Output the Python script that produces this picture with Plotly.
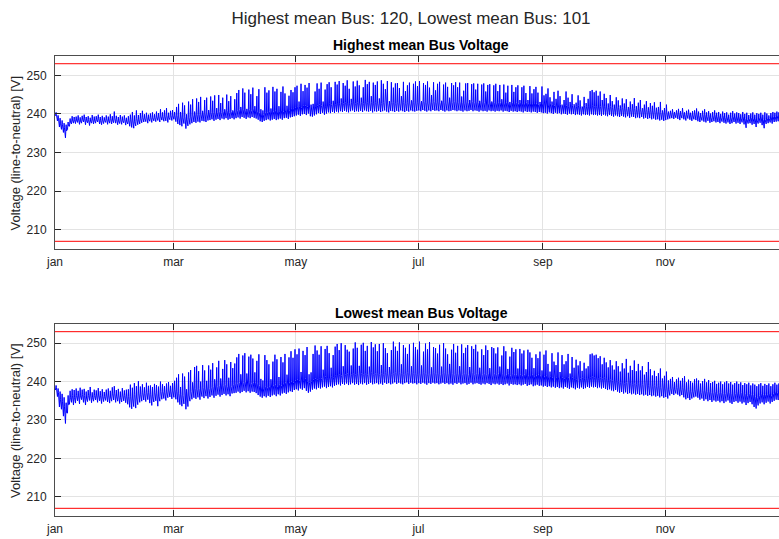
import plotly.graph_objects as go

# ---------------- data (daily min / evening / max voltage) ----------------
month_ticks = [0, 59, 120, 181, 243, 304]
month_labels = ["jan", "mar", "may", "jul", "sep", "nov"]
yticks = [210, 220, 230, 240, 250]
limits = [253, 207]

suptitle = "Highest mean Bus: 120, Lowest mean Bus: 101"
titles = ["Highest mean Bus Voltage", "Lowest mean Bus Voltage"]
ylabel = "Voltage (line-to-neutral) [V]"

hi1 = [
    240.4, 239.6, 238.9, 238.3, 237.6, 237.2, 237.9, 238.8, 239.4, 239.2,
    239.3, 239.6, 239.1, 239.5, 239.8, 239.2, 239.4, 239.0, 239.7, 239.3,
    239.4, 239.8, 239.2, 239.5, 239.1, 239.6, 239.3, 239.9, 239.4, 240.6,
    239.5, 239.2, 239.7, 239.3, 239.6, 239.0, 239.4, 239.8, 240.5, 239.6,
    240.9, 239.7, 240.2, 240.8, 239.9, 240.3, 239.8, 240.1, 240.4, 239.9,
    240.6, 240.2, 241.2, 240.4, 240.9, 241.5, 240.3, 240.8, 241.0, 240.5,
    241.8, 242.6, 240.5, 242.9, 242.2, 239.9, 243.2, 242.4, 243.8, 240.6,
    244.0, 243.1, 244.4, 240.8, 243.6, 244.2, 241.0, 244.5, 243.4, 244.8,
    241.5, 244.9, 242.8, 244.2, 241.2, 245.0, 243.3, 244.6, 240.9, 243.8,
    245.4, 246.2, 241.8, 246.6, 245.5, 241.3, 246.3, 245.1, 246.8, 242.0,
    244.6, 246.4, 241.2, 240.9, 246.9, 245.5, 246.1, 241.4, 247.0, 245.8,
    246.5, 242.0, 245.7, 247.1, 245.3, 242.1, 244.7, 246.2, 245.6, 246.9,
    247.3, 243.2, 247.8, 245.9, 247.5, 246.8, 248.0, 242.4, 242.6, 245.8,
    247.9, 246.5, 248.1, 243.2, 246.3, 247.7, 248.2, 246.9, 243.4, 248.3,
    247.6, 248.5, 244.0, 248.0, 247.3, 248.7, 246.5, 243.9, 248.4, 247.1,
    248.6, 247.4, 244.2, 246.9, 248.8, 247.7, 248.3, 244.6, 248.1, 247.5,
    248.4, 244.0, 248.7, 247.8, 246.4, 248.5, 243.3, 248.2, 246.8, 247.9,
    248.0, 246.7, 244.6, 248.3, 245.9, 247.4, 248.1, 243.5, 247.8, 248.4,
    247.2, 248.5, 243.3, 248.0, 247.5, 248.4, 246.8, 244.9, 248.2, 246.1,
    247.8, 248.3, 243.4, 247.6, 248.1, 247.0, 244.2, 248.0, 247.4, 248.2,
    246.9, 248.1, 244.5, 246.0, 247.9, 248.0, 243.6, 247.7, 247.9, 246.3,
    247.8, 243.4, 247.6, 247.9, 245.8, 247.5, 247.7, 243.2, 247.4, 247.8,
    245.9, 247.5, 243.8, 247.6, 245.5, 247.3, 243.1, 247.5, 245.7, 246.9,
    247.4, 243.6, 246.9, 247.3, 245.4, 243.6, 247.2, 245.3, 246.4, 247.0,
    245.5, 243.1, 247.1, 244.8, 245.2, 246.6, 244.3, 243.2, 245.7, 243.9,
    246.0, 244.6, 242.4, 243.6, 245.8, 244.2, 243.1, 245.1, 242.5, 242.9,
    244.8, 243.5, 241.9, 244.4, 242.8, 243.9, 245.9, 246.2, 245.6, 246.0,
    244.7, 245.8, 243.6, 245.2, 244.1, 242.7, 244.9, 243.3, 242.4, 244.3,
    243.5, 242.2, 244.0, 242.7, 243.8, 241.8, 243.2, 242.5, 244.1, 242.0,
    242.9, 243.6, 241.5, 242.4, 243.3, 241.7, 242.8, 242.1, 243.0, 241.6,
    241.8, 243.1, 240.9, 241.5, 242.4, 240.6, 240.8, 241.2, 240.5, 240.9,
    241.3, 240.7, 241.5, 240.4, 240.8, 241.1, 240.3, 240.7, 240.9, 241.4,
    240.6, 240.2, 240.8, 241.2, 240.4, 240.7, 240.1, 240.5, 240.9, 240.3,
    240.5, 240.0, 240.6, 240.2, 240.4, 239.8, 240.3, 240.7, 240.1, 240.4,
    240.2, 239.9, 240.5, 240.0, 240.3, 239.7, 240.1, 240.4, 239.8, 240.2,
    240.0, 240.3, 239.8, 240.4, 240.1, 239.6, 240.2, 240.5, 240.3, 240.6,
    240.4, 240.2, 240.5, 240.1, 240.3,
]
mid1 = [
    239.9, 238.9, 237.6, 237.2, 236.4, 235.6, 236.9, 237.8, 238.4, 238.5,
    238.4, 238.7, 238.2, 238.6, 238.9, 238.3, 238.5, 238.1, 238.7, 238.4,
    238.5, 238.9, 238.3, 238.4, 238.3, 238.7, 238.4, 238.8, 238.4, 238.9,
    238.6, 238.2, 238.6, 238.3, 238.7, 238.1, 238.4, 238.6, 238.4, 238.0,
    238.8, 238.5, 238.8, 239.1, 238.9, 239.2, 238.7, 239.1, 239.0, 239.1,
    239.2, 239.2, 239.4, 239.3, 239.4, 239.6, 239.1, 239.6, 239.5, 239.5,
    239.6, 239.2, 238.9, 239.0, 239.4, 238.6, 239.1, 239.4, 239.7, 239.8,
    239.8, 239.9, 240.0, 239.9, 240.1, 240.0, 240.2, 240.3, 240.4, 240.2,
    240.4, 240.6, 240.3, 240.7, 240.5, 240.8, 240.4, 240.6, 240.7, 240.5,
    240.9, 241.1, 240.8, 241.2, 241.0, 240.6, 241.1, 240.9, 241.3, 241.0,
    240.7, 240.4, 240.0, 239.8, 240.3, 240.4, 240.7, 240.3, 240.6, 240.8,
    240.5, 240.7, 241.0, 240.6, 241.0, 241.2, 240.8, 241.3, 241.3, 241.6,
    241.8, 242.0, 241.7, 242.1, 242.2, 241.9, 242.3, 241.6, 241.5, 241.8,
    242.1, 242.4, 242.2, 242.5, 242.0, 242.3, 242.6, 242.4, 242.7, 242.5,
    242.8, 242.6, 242.9, 242.7, 243.0, 242.8, 242.6, 242.9, 243.1, 242.7,
    242.9, 242.8, 243.0, 242.7, 243.1, 242.9, 242.8, 243.0, 242.6, 242.9,
    242.8, 243.0, 242.7, 242.9, 243.1, 242.8, 242.6, 243.0, 242.9, 242.7,
    243.0, 242.8, 243.1, 242.9, 242.7, 243.0, 242.8, 243.1, 242.9, 242.8,
    243.0, 243.1, 242.9, 243.2, 243.0, 242.8, 243.1, 242.9, 243.2, 243.0,
    243.1, 242.9, 243.2, 243.0, 242.8, 243.1, 242.9, 243.0, 243.2, 243.1,
    242.9, 243.1, 243.0, 242.8, 243.1, 242.9, 243.0, 243.2, 242.9, 243.1,
    243.0, 242.8, 243.1, 242.9, 243.0, 242.8, 243.1, 242.9, 243.0, 242.8,
    243.0, 242.9, 243.1, 242.8, 243.0, 242.9, 242.7, 243.0, 242.8, 242.9,
    242.7, 242.9, 242.8, 242.6, 242.9, 242.7, 242.8, 242.6, 242.8, 242.7,
    242.5, 242.7, 242.6, 242.4, 242.5, 242.3, 242.6, 242.4, 242.2, 242.5,
    242.3, 242.4, 242.1, 242.3, 242.2, 242.0, 242.3, 242.1, 242.2, 241.9,
    242.1, 242.0, 241.8, 242.1, 241.9, 242.0, 241.8, 242.1, 241.9, 242.0,
    241.8, 241.9, 241.7, 242.0, 241.8, 241.6, 241.9, 241.7, 241.5, 241.8,
    241.6, 241.4, 241.7, 241.5, 241.3, 241.6, 241.2, 241.5, 241.4, 241.1,
    241.3, 241.1, 241.4, 241.0, 241.2, 240.9, 241.1, 240.8, 241.0, 240.7,
    240.6, 240.4, 240.5, 240.3, 240.5, 240.0, 240.2, 240.4, 240.0, 240.3,
    240.3, 239.9, 240.5, 239.8, 239.9, 240.3, 239.7, 239.7, 240.1, 240.2,
    239.6, 239.3, 239.8, 239.9, 239.3, 239.8, 239.1, 239.5, 239.8, 239.3,
    239.5, 239.0, 239.6, 239.1, 239.2, 238.9, 239.0, 239.4, 239.2, 239.2,
    239.2, 238.9, 239.4, 238.8, 238.6, 238.8, 239.1, 238.9, 238.9, 238.4,
    239.0, 239.2, 238.6, 238.5, 238.9, 238.8, 239.2, 239.3, 239.3, 239.5,
    239.5, 239.2, 239.6, 239.2, 239.4,
]
lo1 = [
    239.5, 238.2, 236.6, 236.0, 235.2, 233.8, 235.9, 236.8, 237.4, 237.6,
    237.5, 237.8, 237.3, 237.6, 237.9, 237.2, 237.7, 237.0, 237.6, 237.4,
    237.6, 237.9, 237.4, 237.2, 237.5, 237.8, 237.3, 237.6, 237.4, 237.7,
    237.6, 237.2, 237.5, 237.3, 237.7, 237.1, 237.4, 236.8, 236.5, 236.3,
    236.9, 237.2, 237.4, 237.7, 237.9, 238.0, 237.6, 238.1, 237.8, 238.2,
    238.0, 238.3, 237.9, 238.4, 238.1, 238.2, 237.8, 238.5, 238.3, 238.6,
    238.0, 237.4, 237.1, 236.8, 237.5, 236.2, 236.9, 237.3, 237.6, 237.9,
    237.7, 238.0, 237.8, 238.2, 238.1, 237.9, 238.3, 238.4, 238.6, 238.2,
    238.5, 238.7, 238.4, 238.8, 238.6, 238.9, 238.5, 238.7, 238.9, 238.6,
    238.9, 239.1, 238.8, 239.2, 239.0, 238.7, 239.1, 238.9, 239.2, 239.0,
    238.8, 238.5, 238.1, 237.9, 238.2, 238.4, 238.6, 238.3, 238.5, 238.7,
    238.4, 238.6, 238.8, 238.5, 238.9, 239.0, 238.7, 239.1, 239.2, 239.4,
    239.6, 239.8, 239.5, 239.9, 240.0, 239.7, 240.1, 239.4, 239.3, 239.6,
    239.9, 240.2, 240.0, 240.3, 239.8, 240.1, 240.4, 240.2, 240.5, 240.3,
    240.6, 240.4, 240.7, 240.5, 240.8, 240.6, 240.4, 240.7, 240.9, 240.5,
    240.7, 240.6, 240.8, 240.5, 240.9, 240.7, 240.6, 240.8, 240.4, 240.7,
    240.6, 240.8, 240.5, 240.7, 240.9, 240.6, 240.4, 240.8, 240.7, 240.5,
    240.8, 240.6, 240.9, 240.7, 240.5, 240.8, 240.6, 240.9, 240.7, 240.6,
    240.8, 240.9, 240.7, 241.0, 240.8, 240.6, 240.9, 240.7, 241.0, 240.8,
    240.9, 240.7, 241.0, 240.8, 240.6, 240.9, 240.7, 240.8, 241.0, 240.9,
    240.7, 240.9, 240.8, 240.6, 240.9, 240.7, 240.8, 241.0, 240.7, 240.9,
    240.8, 240.6, 240.9, 240.7, 240.8, 240.6, 240.9, 240.7, 240.8, 240.6,
    240.8, 240.7, 240.9, 240.6, 240.8, 240.7, 240.5, 240.8, 240.6, 240.7,
    240.5, 240.7, 240.6, 240.4, 240.7, 240.5, 240.6, 240.4, 240.6, 240.5,
    240.3, 240.5, 240.4, 240.2, 240.3, 240.1, 240.4, 240.2, 240.0, 240.3,
    240.1, 240.2, 239.9, 240.1, 240.0, 239.8, 240.1, 239.9, 240.0, 239.7,
    239.9, 239.8, 239.6, 239.9, 239.7, 239.8, 239.6, 239.9, 239.7, 239.8,
    239.6, 239.7, 239.5, 239.8, 239.6, 239.4, 239.7, 239.5, 239.3, 239.6,
    239.4, 239.2, 239.5, 239.3, 239.1, 239.4, 239.0, 239.3, 239.2, 238.9,
    239.1, 238.9, 239.2, 238.8, 239.0, 238.7, 238.9, 238.6, 238.8, 238.5,
    238.6, 238.3, 238.5, 238.2, 238.4, 238.6, 238.8, 238.9, 238.7, 239.0,
    238.7, 238.4, 238.9, 238.6, 238.3, 238.8, 238.5, 238.2, 238.6, 238.4,
    238.1, 237.9, 238.3, 238.0, 237.8, 238.2, 237.7, 237.9, 238.1, 237.8,
    237.9, 237.6, 238.0, 237.7, 237.5, 237.8, 237.4, 237.6, 237.9, 237.5,
    237.7, 237.4, 237.8, 237.3, 236.4, 237.5, 237.6, 237.2, 237.4, 236.6,
    237.5, 237.7, 237.1, 236.3, 237.4, 237.6, 237.8, 237.5, 237.9, 238.0,
    238.1, 237.9, 238.2, 238.0, 238.1,
]
hi2 = [
    239.0, 238.2, 237.4, 236.8, 235.9, 234.5, 236.4, 237.6, 238.0, 237.8,
    238.2, 237.6, 238.4, 237.9, 238.1, 237.4, 237.8, 238.6, 237.2, 237.9,
    237.7, 238.3, 237.5, 238.0, 237.3, 237.9, 238.2, 237.6, 238.5, 238.8,
    237.8, 238.1, 237.4, 238.3, 237.7, 237.9, 238.0, 239.2, 238.4, 239.6,
    238.8, 240.1, 238.7, 239.3, 238.5, 239.7, 238.9, 239.0, 238.6, 239.4,
    239.1, 238.7, 240.0, 239.3, 238.8, 239.5, 239.9, 238.9, 239.6, 240.2,
    241.0, 241.9, 238.6, 242.1, 241.3, 238.0, 242.4, 243.0, 239.8, 243.8,
    244.1, 242.7, 240.0, 244.3, 242.9, 240.2, 244.2, 243.1, 244.8, 240.6,
    243.7, 245.4, 240.8, 243.3, 245.6, 244.5, 241.0, 245.1, 243.5, 244.7,
    246.3, 247.2, 241.9, 246.8, 247.4, 242.1, 246.5, 247.0, 246.0, 242.4,
    245.4, 247.1, 240.7, 240.3, 246.9, 245.6, 244.5, 240.6, 245.2, 247.0,
    245.8, 241.2, 246.4, 245.0, 247.2, 241.8, 246.3, 247.9, 246.2, 248.4,
    247.1, 248.6, 242.5, 248.0, 246.9, 249.0, 241.9, 242.4, 247.2, 249.4,
    248.1, 247.0, 249.2, 243.1, 248.5, 249.3, 247.4, 243.6, 246.9, 249.1,
    249.8, 248.2, 250.0, 244.0, 249.5, 248.3, 247.8, 244.2, 248.6, 250.2,
    248.8, 244.1, 249.6, 250.1, 248.0, 249.3, 243.9, 250.3, 248.9, 249.7,
    247.9, 249.8, 244.3, 250.0, 248.7, 247.4, 243.8, 248.2, 250.4, 249.1,
    248.0, 250.2, 244.5, 249.5, 248.8, 247.2, 249.7, 244.0, 250.1, 249.0,
    248.3, 250.4, 244.2, 247.8, 249.9, 248.4, 250.3, 243.7, 249.0, 248.7,
    247.3, 249.6, 243.9, 250.0, 248.6, 247.1, 244.6, 248.3, 249.8, 247.5,
    249.3, 244.0, 249.7, 247.4, 248.8, 249.5, 243.8, 249.2, 248.5, 249.6,
    247.8, 243.6, 248.4, 246.9, 249.4, 248.2, 243.5, 249.0, 248.7, 247.3,
    248.9, 243.9, 246.8, 249.2, 247.9, 243.3, 246.5, 248.8, 247.7, 248.4,
    243.4, 248.5, 247.3, 248.1, 243.2, 248.3, 247.6, 246.2, 243.5, 247.1,
    246.1, 247.8, 242.9, 247.0, 248.1, 244.6, 242.6, 247.4, 245.2, 244.3,
    247.6, 242.5, 246.9, 244.5, 245.3, 247.2, 242.1, 246.4, 243.6, 245.7,
    244.2, 245.3, 242.8, 244.9, 243.4, 244.0, 247.1, 247.3, 246.8, 247.0,
    246.1, 246.6, 244.5, 246.2, 245.0, 243.7, 245.6, 244.2, 243.1, 245.3,
    244.0, 242.6, 244.8, 243.4, 245.9, 242.3, 244.1, 243.0, 245.5, 242.7,
    244.6, 242.9, 244.0, 241.8, 242.5, 245.1, 243.2, 241.6, 242.8, 241.4,
    242.2, 243.4, 240.8, 241.5, 242.6, 240.3, 240.7, 241.2, 239.9, 240.6,
    241.0, 240.2, 240.9, 241.4, 239.8, 240.5, 240.1, 239.7, 240.6, 240.8,
    240.3, 239.5, 240.1, 240.7, 239.8, 240.4, 239.6, 239.9, 240.2, 239.4,
    239.7, 240.0, 239.3, 239.8, 240.1, 239.5, 239.9, 239.2, 239.6, 240.0,
    239.4, 239.8, 239.1, 239.6, 239.3, 239.7, 239.0, 239.5, 239.2, 238.8,
    239.3, 239.6, 238.9, 239.4, 239.1, 239.5, 238.8, 239.3, 239.7, 239.2,
    239.5, 239.1, 239.6, 239.3, 239.4,
]
mid2 = [
    238.5, 237.2, 235.4, 234.9, 233.6, 231.9, 234.0, 235.9, 236.4, 235.9,
    236.4, 236.5, 236.3, 236.6, 236.4, 235.7, 236.4, 236.8, 235.9, 236.4,
    236.5, 236.5, 236.3, 236.2, 236.1, 236.5, 236.5, 236.0, 236.8, 237.0,
    236.2, 236.5, 235.9, 236.5, 236.4, 236.2, 236.1, 236.2, 235.7, 236.6,
    236.0, 237.0, 236.7, 237.1, 236.9, 237.2, 237.1, 236.7, 236.2, 237.1,
    237.0, 236.2, 237.4, 237.4, 237.2, 237.3, 237.8, 237.5, 237.6, 238.0,
    237.5, 236.9, 236.6, 236.4, 236.9, 235.9, 236.5, 237.4, 237.8, 238.2,
    238.0, 238.2, 237.8, 238.5, 238.1, 238.6, 238.2, 238.4, 238.8, 238.4,
    238.7, 239.0, 238.6, 238.9, 239.2, 238.8, 239.1, 238.7, 239.3, 239.4,
    239.5, 239.8, 239.4, 239.7, 240.0, 239.6, 239.9, 239.5, 239.8, 239.7,
    239.4, 239.0, 238.6, 238.3, 238.8, 238.5, 238.8, 238.6, 239.0, 239.2,
    238.8, 239.2, 239.0, 239.4, 239.7, 239.3, 239.7, 240.0, 239.8, 240.3,
    240.5, 240.2, 240.7, 240.4, 240.8, 240.1, 239.7, 240.0, 240.5, 240.8,
    240.6, 240.9, 240.8, 241.0, 241.3, 240.9, 241.2, 241.4, 241.0, 241.5,
    241.7, 241.9, 241.6, 242.0, 241.8, 242.1, 241.7, 241.9, 242.2, 241.8,
    242.0, 241.7, 242.1, 241.9, 242.2, 241.8, 242.0, 242.3, 241.9, 242.1,
    242.2, 241.9, 242.1, 241.8, 242.3, 242.0, 242.2, 241.9, 242.1, 242.4,
    242.0, 242.3, 242.1, 241.9, 242.2, 242.4, 242.0, 242.3, 242.1, 242.2,
    241.9, 242.2, 242.0, 242.3, 242.1, 241.8, 242.2, 242.0, 242.3, 242.1,
    242.2, 241.9, 242.1, 242.3, 242.0, 242.2, 241.9, 242.1, 241.8, 242.2,
    242.0, 242.3, 241.9, 242.1, 242.2, 241.8, 242.0, 242.3, 241.9, 242.1,
    242.2, 242.0, 241.8, 242.1, 241.9, 242.2, 242.0, 241.7, 242.1, 241.9,
    242.1, 241.8, 242.0, 241.7, 241.9, 242.1, 241.6, 242.0, 241.8, 241.9,
    241.7, 241.9, 241.6, 241.8, 242.0, 241.5, 241.7, 241.9, 241.4, 241.6,
    241.8, 241.5, 241.6, 241.3, 241.5, 241.2, 241.4, 241.1, 241.3, 241.0,
    241.2, 240.9, 241.1, 240.8, 241.2, 241.0, 240.7, 241.1, 240.9, 240.6,
    241.0, 240.8, 241.1, 240.7, 240.9, 241.2, 241.0, 241.3, 241.1, 241.2,
    240.9, 241.1, 240.8, 241.0, 240.7, 240.4, 240.6, 240.3, 240.1, 240.4,
    240.0, 239.7, 239.9, 239.5, 239.8, 239.4, 239.6, 239.3, 239.5, 239.2,
    239.4, 239.1, 239.3, 239.0, 239.2, 238.9, 239.1, 238.8, 239.0, 238.7,
    238.9, 238.5, 238.6, 238.3, 238.6, 237.9, 238.3, 238.8, 238.0, 238.5,
    238.6, 238.0, 238.5, 238.1, 237.5, 237.9, 237.4, 237.5, 238.0, 238.3,
    237.8, 237.2, 237.7, 237.6, 237.4, 237.5, 237.2, 237.1, 237.5, 236.9,
    237.2, 237.1, 236.9, 236.9, 237.3, 237.1, 237.0, 236.5, 236.9, 237.3,
    236.8, 237.2, 236.5, 236.9, 236.4, 236.9, 236.7, 236.6, 236.1, 235.8,
    236.4, 236.8, 236.6, 236.6, 236.7, 237.0, 236.4, 236.9, 237.3, 237.2,
    237.3, 237.2, 237.5, 237.4, 237.4,
]
lo2 = [
    237.8, 236.1, 233.4, 232.8, 231.0, 229.1, 231.8, 234.1, 234.6, 233.9,
    234.4, 235.0, 234.2, 235.3, 234.6, 233.9, 234.8, 235.1, 234.5, 234.9,
    235.2, 234.6, 235.0, 234.3, 234.8, 235.1, 234.7, 234.4, 234.9, 235.2,
    234.6, 234.9, 234.3, 234.7, 235.0, 234.5, 234.1, 233.3, 232.9, 233.5,
    233.1, 234.0, 234.6, 234.9, 235.2, 234.8, 235.3, 234.4, 233.8, 234.7,
    235.0, 233.6, 234.9, 235.4, 235.6, 235.1, 235.8, 236.0, 235.5, 235.9,
    235.4, 234.6, 234.0, 233.6, 234.2, 232.8, 233.5, 234.9, 235.4, 235.8,
    235.5, 235.9, 235.3, 236.1, 235.7, 236.2, 235.6, 236.0, 236.4, 235.8,
    236.3, 236.6, 236.1, 236.5, 236.8, 236.4, 236.7, 236.2, 236.9, 237.0,
    237.1, 237.4, 237.0, 237.3, 237.6, 237.2, 237.5, 237.1, 237.4, 237.3,
    237.0, 236.5, 236.1, 235.8, 236.2, 235.9, 236.3, 236.0, 236.4, 236.6,
    236.2, 236.7, 236.4, 236.9, 237.1, 236.8, 237.2, 237.5, 237.3, 237.8,
    238.0, 237.7, 238.2, 237.9, 238.3, 237.6, 237.1, 237.4, 237.9, 238.2,
    238.0, 238.4, 238.2, 238.5, 238.7, 238.3, 238.6, 238.8, 238.5, 238.9,
    239.1, 239.3, 239.0, 239.4, 239.2, 239.5, 239.1, 239.3, 239.6, 239.2,
    239.4, 239.1, 239.5, 239.3, 239.6, 239.2, 239.4, 239.7, 239.3, 239.5,
    239.6, 239.3, 239.5, 239.2, 239.7, 239.4, 239.6, 239.3, 239.5, 239.8,
    239.4, 239.7, 239.5, 239.3, 239.6, 239.8, 239.4, 239.7, 239.5, 239.6,
    239.3, 239.6, 239.4, 239.7, 239.5, 239.2, 239.6, 239.4, 239.7, 239.5,
    239.6, 239.3, 239.5, 239.7, 239.4, 239.6, 239.3, 239.5, 239.2, 239.6,
    239.4, 239.7, 239.3, 239.5, 239.6, 239.2, 239.4, 239.7, 239.3, 239.5,
    239.6, 239.4, 239.2, 239.5, 239.3, 239.6, 239.4, 239.1, 239.5, 239.3,
    239.5, 239.2, 239.4, 239.1, 239.3, 239.5, 239.0, 239.4, 239.2, 239.3,
    239.1, 239.3, 239.0, 239.2, 239.4, 238.9, 239.1, 239.3, 238.8, 239.0,
    239.2, 238.9, 239.0, 238.7, 238.9, 238.6, 238.8, 238.5, 238.7, 238.4,
    238.6, 238.3, 238.5, 238.2, 238.6, 238.4, 238.1, 238.5, 238.3, 238.0,
    238.4, 238.2, 238.5, 238.1, 238.3, 238.6, 238.4, 238.7, 238.5, 238.6,
    238.3, 238.5, 238.2, 238.4, 238.1, 237.8, 238.0, 237.7, 237.5, 237.8,
    237.4, 237.1, 237.3, 236.9, 237.2, 236.8, 237.0, 236.7, 236.9, 236.6,
    236.8, 236.5, 236.7, 236.4, 236.6, 236.3, 236.5, 236.2, 236.4, 236.1,
    236.3, 235.9, 236.2, 235.8, 236.0, 235.6, 236.4, 236.8, 236.5, 236.9,
    236.6, 236.2, 236.5, 235.9, 235.4, 235.7, 235.2, 235.6, 235.9, 236.1,
    235.8, 235.3, 235.6, 235.0, 235.4, 234.9, 235.2, 234.7, 235.1, 234.8,
    235.0, 234.6, 234.9, 234.4, 234.8, 235.1, 234.5, 234.2, 234.7, 234.9,
    234.5, 234.8, 234.3, 234.6, 233.9, 234.4, 234.7, 234.1, 233.4, 233.0,
    233.8, 234.3, 234.6, 234.1, 234.5, 234.8, 234.3, 234.7, 235.0, 235.3,
    235.2, 235.6, 235.4, 235.7, 235.5,
]

# hours of day for the daily minimum, maximum and evening level
LO_HOUR, HI_HOUR, MID_HOUR = 5, 13, 17


def daily_series(lo, hi, mid):
    xs, ys = [], []
    for d in range(len(lo)):
        xs += [d + LO_HOUR / 24, d + HI_HOUR / 24, d + MID_HOUR / 24]
        ys += [lo[d], hi[d], mid[d]]
    return xs, ys


FONT = "Liberation Sans, Arial, Helvetica, sans-serif"
TXT = "#262626"
fig = go.Figure()

for i, (lo, hi, mid) in enumerate([(lo1, hi1, mid1), (lo2, hi2, mid2)]):
    xa = "x" if i == 0 else "x2"
    ya = "y" if i == 0 else "y2"
    xs, ys = daily_series(lo, hi, mid)
    fig.add_trace(go.Scatter(x=xs, y=ys, mode="lines",
                             line=dict(color="#0000ff", width=1),
                             xaxis=xa, yaxis=ya, showlegend=False,
                             hoverinfo="skip"))
    for lim in limits:
        fig.add_trace(go.Scatter(x=[0, 365], y=[lim, lim], mode="lines",
                                 line=dict(color="#ff0000", width=1),
                                 xaxis=xa, yaxis=ya, showlegend=False,
                                 hoverinfo="skip"))

XR = [0, 360.6]
common_x = dict(range=XR, tickmode="array", tickvals=month_ticks,
                ticktext=month_labels, ticks="inside", ticklen=6,
                tickcolor=TXT, showline=True, linecolor="#4d4d4d",
                linewidth=1, mirror="ticks", showgrid=True,
                gridcolor="#e3e3e3", gridwidth=1, zeroline=False,
                tickfont=dict(family=FONT, size=12, color=TXT),
                ticklabelstandoff=2, fixedrange=True)
common_y = dict(range=[205, 255], tickmode="array", tickvals=yticks,
                ticks="inside", ticklen=6, tickcolor=TXT, showline=True,
                linecolor="#4d4d4d", linewidth=1, mirror=False,
                showgrid=True, gridcolor="#e3e3e3", gridwidth=1,
                zeroline=False,
                tickfont=dict(family=FONT, size=12, color=TXT),
                ticklabelstandoff=5, fixedrange=True)

D1 = [0.5804, 1.0]
D2 = [0.0, 0.4174]
fig.update_layout(
    width=779, height=539,
    margin=dict(l=55, r=0, t=56, b=23),
    paper_bgcolor="white", plot_bgcolor="white",
    xaxis=dict(common_x, domain=[0, 1], anchor="y"),
    yaxis=dict(common_y, domain=D1, anchor="x"),
    xaxis2=dict(common_x, domain=[0, 1], anchor="y2"),
    yaxis2=dict(common_y, domain=D2, anchor="x2"),
    title=dict(text=suptitle, x=411 / 779, xanchor="center", xref="container",
               y=1 - 18 / 539, yanchor="middle", yref="container",
               font=dict(family=FONT, size=17, color=TXT)),
)

annots = []
for i, dom in enumerate([D1, D2]):
    annots.append(dict(text="<b>" + titles[i] + "</b>", xref="paper",
                       yref="paper", x=0.506, y=dom[1] + 11 / 460,
                       xanchor="center", yanchor="middle", showarrow=False,
                       font=dict(family=FONT, size=14, color="#000000")))
    annots.append(dict(text=ylabel, xref="paper", yref="paper",
                       x=-0.0539, y=(dom[0] + dom[1]) / 2, textangle=-90,
                       xanchor="center", yanchor="middle", showarrow=False,
                       font=dict(family=FONT, size=13, color=TXT)))
fig.update_layout(annotations=annots)

fig.write_html("out.html", config={"displayModeBar": False},
               post_script="document.body.style.margin='0';"
                           "document.body.style.overflow='hidden';")
